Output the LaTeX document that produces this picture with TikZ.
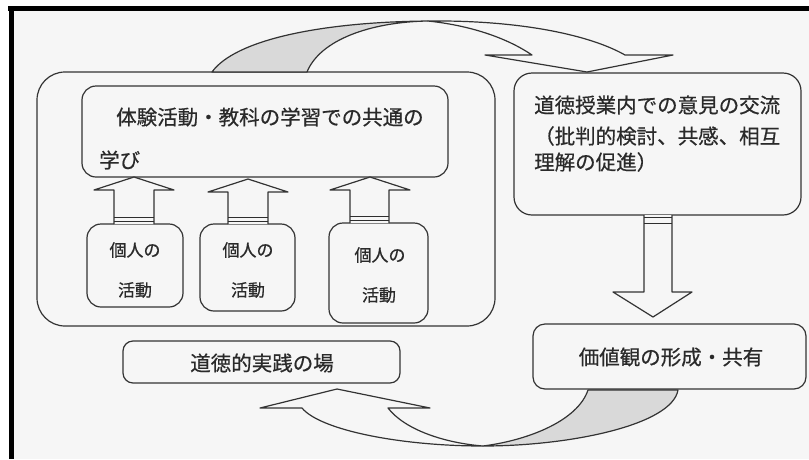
\documentclass[tikz,border=0pt]{standalone}
\usepackage{fontspec}
\setmainfont[FakeBold=0.6]{Noto Sans CJK JP}
\definecolor{lc}{HTML}{333333}
\definecolor{tc}{HTML}{2A2A2A}
\definecolor{bg}{HTML}{F6F6F6}
\definecolor{backgray}{HTML}{D9D9D9}
\tikzset{
  ln/.style={draw=lc, line width=1.2pt, line join=round},
  box/.style={ln, rounded corners=#1, fill=bg, inner sep=0pt},
  box/.default=14pt,
  jp/.style={inner sep=0pt, text=tc, font=\fontsize{20.5}{24}\selectfont},
  jps/.style={inner sep=0pt, text=tc, font=\fontsize{17}{20}\selectfont},
  blockarr/.style={ln, fill=bg},
  band/.style={draw=lc!90!black, line width=1.6pt},
}
\begin{document}
\begin{tikzpicture}[x=1pt,y=-1pt]
\useasboundingbox (0,0) rectangle (809,459);
% page and frame
\fill[white] (0,0) rectangle (809,459);
\fill[bg] (9,6) rectangle (809,459);
\fill[black] (8,6) rectangle (809,11);
\fill[black] (9,6) rectangle (14,459);

% boxes
\node[box=28pt, minimum width=458pt, minimum height=254pt] (big) at (266,199) {};
\node[box=14pt, minimum width=366pt, minimum height=91pt] (common) at (265,131.5) {};
\node[box=14pt, minimum width=96pt, minimum height=83pt] (k1) at (135,265.5) {};
\node[box=14pt, minimum width=95pt, minimum height=87pt] (k2) at (247.5,267.5) {};
\node[box=14pt, minimum width=99pt, minimum height=100pt] (k3) at (378.5,273) {};
\node[box=18pt, minimum width=287pt, minimum height=142pt] (koryu) at (657.5,144) {};
\node[box=12pt, minimum width=273pt, minimum height=65pt] (kachi) at (669.5,356.5) {};
\node[box=10pt, minimum width=277pt, minimum height=42pt] (jissen) at (261.5,362) {};

% texts
\node[jp, anchor=west] (c1) at (116,117) {体験活動・教科の学習での共通の};
\node[jp, anchor=west] (c2) at (99,160) {学び};
\node[jp, anchor=west] (r1) at (534,105) {道徳授業内での意見の交流};
\node[jp, anchor=west] (r2) at (534,136) {（批判的検討、共感、相互};
\node[jp, anchor=west] (r3) at (534,162) {理解の促進）};
\node[jp] (kt) at (671,357) {価値観の形成・共有};
\node[jp] (jt) at (262,363) {道徳的実践の場};
\node[jps] (k1a) at (135,250) {個人の};
\node[jps] (k1b) at (135,290) {活動};
\node[jps] (k2a) at (248,250) {個人の};
\node[jps] (k2b) at (248,290) {活動};
\node[jps] (k3a) at (380,255) {個人の};
\node[jps] (k3b) at (379,295) {活動};

% up block arrows (individual -> common)
\draw[blockarr] (114,224) -- (114,190) -- (94,190) -- (134,177) -- (174,190) -- (154,190) -- (154,224);
\draw[band] (114,217.5) -- (154,217.5);
\draw[band] (114,221.5) -- (154,221.5);
\draw[blockarr] (228,224) -- (228,192) -- (208,192) -- (248,179) -- (288,192) -- (268,192) -- (268,224);
\draw[band] (228,217.5) -- (268,217.5);
\draw[band] (228,221.5) -- (268,221.5);
\draw[blockarr] (350,223) -- (350,190) -- (330,190) -- (370,177) -- (410,190) -- (389,190) -- (389,223);
\draw[band] (350,216.5) -- (389,216.5);
\draw[band] (350,220.5) -- (389,220.5);

% down block arrow (koryu -> kachi)
\draw[blockarr] (644,215) -- (644,292) -- (613,292) -- (653,317) -- (692,292) -- (672,292) -- (672,215);
\draw[band] (644,217.5) -- (672,217.5);
\draw[band] (644,223.5) -- (672,223.5);

% top curved arrow (big -> koryu)
\draw[ln, fill=backgray] (212,72) .. controls (235,40) and (320,22) .. (428,21)
   .. controls (370,22) and (320,40) .. (307,72) -- cycle;
\draw[blockarr] (428,21) .. controls (520,20) and (590,35) .. (625,55)
   -- (673,55) -- (587,72) -- (485,55) -- (532,55)
   .. controls (510,40) and (475,26) .. (428,21) -- cycle;

% bottom curved arrow (kachi -> jissen)
\draw[ln, fill=backgray] (678,390) .. controls (672,425) and (570,446) .. (483,446)
   .. controls (530,440) and (578,420) .. (588,390) -- cycle;
\draw[blockarr] (483,446) .. controls (400,446) and (320,430) .. (302,408)
   -- (260,408) -- (337,389) -- (430,408) -- (388,408)
   .. controls (405,430) and (445,443) .. (483,446) -- cycle;
\end{tikzpicture}
\end{document}
